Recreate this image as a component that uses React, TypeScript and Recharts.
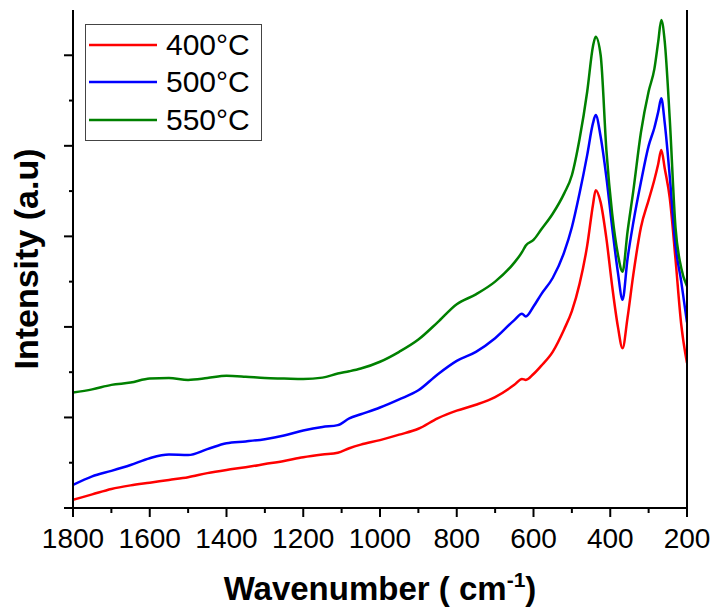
import React from 'react';
import { LineChart, Line, XAxis, YAxis, Legend, Label } from 'recharts';

const wavenumbers = [
  1800, 1750, 1700, 1650, 1600, 1550, 1500, 1450, 1400, 1350, 1300, 1250, 1200, 1150, 1110, 1080,
  1050, 1000, 950, 900, 850, 800, 750, 700, 650, 630, 620, 600, 580, 550, 520, 500, 480, 460, 445,
  438, 425, 410, 395, 380, 368, 355, 340, 320, 300, 285, 275, 267, 258, 245, 230, 215, 200,
];

// intensities in arbitrary units (0..11 = axis height)
const red400 = [
  0.18, 0.3, 0.42, 0.5, 0.56, 0.62, 0.68, 0.77, 0.84, 0.9, 0.97, 1.04, 1.12, 1.18, 1.22, 1.32,
  1.4, 1.5, 1.62, 1.75, 1.98, 2.15, 2.28, 2.45, 2.72, 2.85, 2.83, 2.96, 3.14, 3.45, 3.95, 4.35, 4.95, 5.8, 6.7,
  7.02, 6.75, 5.95, 4.9, 4.0, 3.53, 4.2, 5.15, 6.2, 6.8, 7.25, 7.6, 7.91, 7.5, 6.85, 5.5, 4.05, 3.2,
];
const blue500 = [
  0.51, 0.7, 0.82, 0.95, 1.1, 1.18, 1.17, 1.3, 1.43, 1.47, 1.52, 1.6, 1.71, 1.79, 1.83, 1.98,
  2.07, 2.22, 2.4, 2.6, 2.95, 3.25, 3.45, 3.75, 4.15, 4.29, 4.23, 4.45, 4.72, 5.08, 5.65, 6.2, 6.95, 7.8, 8.5,
  8.68, 8.2, 7.3, 6.2, 5.2, 4.6, 5.5, 6.3, 7.2, 8.0, 8.4, 8.75, 9.05, 8.5, 7.33, 5.8, 5.0, 4.1,
];
const green550 = [
  2.55, 2.62, 2.72, 2.77, 2.86, 2.87, 2.83, 2.87, 2.92, 2.9, 2.87, 2.86, 2.85, 2.88, 2.97, 3.02,
  3.08, 3.23, 3.45, 3.72, 4.1, 4.5, 4.72, 5.0, 5.42, 5.65, 5.8, 5.92, 6.15, 6.5, 6.95, 7.35, 8.15, 9.2, 10.2,
  10.41, 10.0, 7.9, 6.5, 5.6, 5.22, 6.1, 7.0, 8.3, 9.2, 9.7, 10.3, 10.78, 10.3, 8.6, 6.2, 5.3, 4.9,
];

const xTicks = [1800, 1700, 1600, 1500, 1400, 1300, 1200, 1100, 1000, 900, 800, 700, 600, 500, 400, 300, 200];
const yTicks = [0, 1, 2, 3, 4, 5, 6, 7, 8, 9, 10];

const series = [
  { key: 'red400', name: '400°C', color: '#ff0000' },
  { key: 'blue500', name: '500°C', color: '#0000ff' },
  { key: 'green550', name: '550°C', color: '#008000' },
];

const data = wavenumbers.map((wn, i) => ({
  wn,
  red400: red400[i],
  blue500: blue500[i],
  green550: green550[i],
}));

const FONT = '"Liberation Sans", Arial, Helvetica, sans-serif';

const XTick = (props: any) => {
  const { x, y, payload } = props;
  const major = payload.value % 200 === 0;
  return (
    <g>
      <line x1={x} x2={x} y1={y} y2={y + (major ? 9 : 5)} stroke="#000" strokeWidth={2} />
      {major && (
        <text x={x} y={y + 40} textAnchor="middle" fontSize={28} fontFamily={FONT} fill="#000">
          {payload.value}
        </text>
      )}
    </g>
  );
};

const YTick = (props: any) => {
  const { x, y, payload } = props;
  const major = payload.value % 2 === 0;
  return <line x1={x - (major ? 9 : 4)} x2={x} y1={y} y2={y} stroke="#000" strokeWidth={2} />;
};

const XTitle = (props: any) => {
  const { viewBox } = props;
  const cx = viewBox.x + viewBox.width / 2;
  return (
    <text x={cx} y={viewBox.y + 92} textAnchor="middle" fontSize={33} fontWeight="bold" fontFamily={FONT} fill="#000">
      Wavenumber ( cm
      <tspan dy={-13} fontSize={21}>-1</tspan>
      <tspan dy={13}>)</tspan>
    </text>
  );
};

const YTitle = (props: any) => {
  const { viewBox } = props;
  const cy = viewBox.y + viewBox.height / 2;
  return (
    <text
      x={38}
      y={cy}
      transform={`rotate(-90, 38, ${cy})`}
      textAnchor="middle"
      fontSize={34}
      fontWeight="bold"
      fontFamily={FONT}
      fill="#000"
    >
      Intensity (a.u)
    </text>
  );
};

const LegendBox = () => (
  <div
    style={{
      border: '1px solid #444',
      background: '#fff',
      width: 175,
      height: 114,
      paddingTop: 1,
      boxSizing: 'content-box',
      fontFamily: FONT,
    }}
  >
    {series.map((s) => (
      <div key={s.key} style={{ display: 'flex', alignItems: 'center', height: 37.5 }}>
        <svg width={68} height={4} style={{ marginLeft: 3, marginRight: 9 }}>
          <line x1={0} x2={68} y1={2} y2={2} stroke={s.color} strokeWidth={2.5} />
        </svg>
        <span style={{ fontSize: 30, color: '#000' }}>{s.name}</span>
      </div>
    ))}
  </div>
);

export default function App() {
  return (
    <div style={{ position: 'absolute', left: 0, top: 0, background: '#fff' }}>
      <LineChart width={713} height={608} data={data} margin={{ top: 10, right: 0, bottom: 0, left: 0 }}>
        <XAxis
          dataKey="wn"
          type="number"
          domain={[200, 1800]}
          reversed
          ticks={xTicks}
          interval={0}
          height={100}
          tickSize={0}
          tickMargin={0}
          tickLine={false}
          tick={<XTick />}
          axisLine={{ stroke: '#000', strokeWidth: 2 }}
          allowDataOverflow
        >
          <Label content={<XTitle />} />
        </XAxis>
        <XAxis
          xAxisId="top"
          orientation="top"
          type="number"
          domain={[200, 1800]}
          reversed
          height={0}
          tick={false}
          tickLine={false}
          axisLine={{ stroke: '#000', strokeWidth: 2 }}
        />
        <YAxis
          type="number"
          domain={[0, 11]}
          ticks={yTicks}
          interval={0}
          width={73}
          tickSize={0}
          tickMargin={0}
          tickLine={false}
          tick={<YTick />}
          axisLine={{ stroke: '#000', strokeWidth: 2 }}
          allowDataOverflow
        >
          <Label content={<YTitle />} />
        </YAxis>
        <YAxis
          yAxisId="right"
          orientation="right"
          type="number"
          domain={[0, 11]}
          width={26}
          tick={false}
          tickLine={false}
          axisLine={{ stroke: '#000', strokeWidth: 2 }}
        />
        <Legend
          layout="vertical"
          align="center"
          verticalAlign="middle"
          content={<LegendBox />}
          wrapperStyle={{ left: 85, top: 24, width: 'auto', height: 'auto' }}
        />
        {series.map((s) => (
          <Line
            key={s.key}
            type="monotone"
            dataKey={s.key}
            name={s.name}
            stroke={s.color}
            strokeWidth={2.5}
            dot={false}
            activeDot={false}
            isAnimationActive={false}
          />
        ))}
      </LineChart>
    </div>
  );
}
